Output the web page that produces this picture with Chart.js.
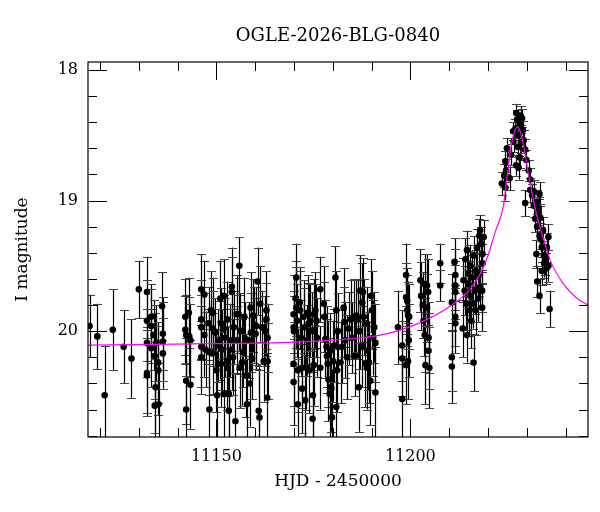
<!DOCTYPE html>
<html>
<head>
<meta charset="utf-8">
<title>OGLE-2026-BLG-0840</title>
<script src="https://cdn.jsdelivr.net/npm/chart.js@4.4.1/dist/chart.umd.min.js"></script>
<style>
  html, body { margin: 0; padding: 0; background: #fff; }
</style>
</head>
<body>
<canvas id="lc" width="600" height="512"></canvas>
<script>
// OGLE I-band photometry: [HJD - 2450000, I mag, error]
const photometry = [
  [11117.3, 19.96, 0.24], [11119.3, 20.04, 0.25], [11121.2, 20.49, 0.38], [11123.3, 19.99, 0.31],
  [11126.1, 20.12, 0.28], [11128.1, 20.21, 0.30], [11130.0, 19.68, 0.22], [11132.1, 19.70, 0.27],
  [11132.1, 19.92, 0.31], [11132.1, 20.09, 0.26], [11132.1, 20.32, 0.33], [11132.1, 20.34, 0.29],
  [11133.2, 19.89, 0.25], [11133.2, 19.96, 0.28], [11133.2, 20.13, 0.30], [11133.8, 20.03, 0.27],
  [11134.1, 20.19, 0.33], [11134.1, 20.57, 0.36], [11134.3, 20.43, 0.35], [11134.5, 20.09, 0.29],
  [11135.0, 20.24, 0.31], [11135.0, 20.30, 0.34], [11135.1, 20.56, 0.32], [11136.0, 19.81, 0.26],
  [11136.2, 20.02, 0.28], [11136.2, 20.08, 0.30], [11136.2, 20.17, 0.27],
  [11142.0, 19.89, 0.29], [11142.0, 19.99, 0.26], [11142.2, 20.03, 0.31], [11142.2, 20.38, 0.33],
  [11142.2, 20.60, 0.36], [11142.9, 19.86, 0.27], [11143.0, 20.04, 0.30], [11143.3, 20.07, 0.28],
  [11143.3, 20.41, 0.34],
  [11146.1, 19.68, 0.27], [11146.1, 19.91, 0.30], [11146.1, 19.97, 0.25], [11146.1, 20.12, 0.31],
  [11146.1, 20.20, 0.28], [11146.9, 19.72, 0.26], [11146.9, 20.03, 0.32], [11147.2, 20.14, 0.29],
  [11148.0, 19.94, 0.28], [11148.0, 20.16, 0.33], [11148.2, 20.60, 0.35], [11148.6, 19.84, 0.30],
  [11149.0, 19.86, 0.27], [11149.0, 19.98, 0.29], [11149.0, 20.17, 0.31], [11149.7, 20.01, 0.26],
  [11150.0, 20.30, 0.32], [11150.2, 20.49, 0.34], [11150.3, 20.11, 0.28], [11150.9, 20.07, 0.30],
  [11151.0, 19.75, 0.29], [11151.2, 19.94, 0.27], [11151.2, 20.25, 0.33], [11151.5, 20.14, 0.31],
  [11151.9, 19.73, 0.28], [11151.9, 19.98, 0.26], [11151.9, 20.48, 0.35], [11152.3, 20.05, 0.30],
  [11152.8, 19.91, 0.29], [11152.8, 20.28, 0.32], [11152.9, 20.23, 0.27], [11153.2, 20.48, 0.34],
  [11153.2, 20.61, 0.36], [11153.6, 20.07, 0.28], [11154.0, 19.66, 0.30], [11154.0, 19.70, 0.27],
  [11154.0, 20.14, 0.31], [11154.3, 20.20, 0.29], [11154.5, 19.97, 0.28], [11154.9, 20.69, 0.37],
  [11155.2, 19.87, 0.30], [11155.3, 20.07, 0.26], [11155.7, 19.87, 0.28], [11155.9, 19.50, 0.22],
  [11156.0, 20.28, 0.31], [11156.2, 20.00, 0.29], [11156.6, 20.24, 0.33], [11156.9, 20.16, 0.27],
  [11157.2, 19.89, 0.30], [11157.5, 20.06, 0.28], [11157.7, 20.34, 0.32], [11157.9, 20.56, 0.35],
  [11158.3, 20.07, 0.29], [11158.6, 20.40, 0.33], [11158.8, 19.82, 0.27], [11158.9, 20.01, 0.30],
  [11159.2, 20.21, 0.31], [11159.5, 19.88, 0.28], [11159.8, 19.95, 0.29], [11160.1, 20.02, 0.27],
  [11160.3, 19.96, 0.30], [11160.6, 19.62, 0.26], [11160.9, 20.61, 0.34], [11161.1, 20.66, 0.36],
  [11161.3, 19.79, 0.29], [11161.8, 19.97, 0.28], [11162.2, 20.23, 0.31], [11162.6, 20.00, 0.27],
  [11162.9, 19.84, 0.30], [11162.9, 19.91, 0.28], [11163.1, 20.51, 0.34], [11163.2, 20.23, 0.29],
  [11163.2, 20.05, 0.26],
  [11169.9, 19.87, 0.30], [11169.9, 19.97, 0.28], [11170.0, 20.00, 0.27], [11169.9, 20.25, 0.32],
  [11169.9, 20.39, 0.33], [11170.4, 19.75, 0.29], [11170.6, 19.59, 0.26], [11170.6, 19.82, 0.31],
  [11170.8, 19.92, 0.28], [11171.0, 20.30, 0.32], [11171.0, 20.56, 0.35], [11171.5, 19.78, 0.27],
  [11171.6, 19.84, 0.30], [11171.8, 20.05, 0.29], [11172.1, 20.44, 0.34], [11172.1, 20.28, 0.31],
  [11172.5, 19.89, 0.28], [11172.7, 19.97, 0.30], [11172.9, 20.53, 0.35], [11173.2, 20.28, 0.32],
  [11173.4, 20.07, 0.27], [11173.5, 19.86, 0.29], [11173.8, 19.94, 0.31], [11174.0, 20.30, 0.33],
  [11174.2, 19.92, 0.28], [11174.7, 20.00, 0.30], [11174.8, 20.67, 0.36], [11174.9, 20.49, 0.34],
  [11175.1, 19.87, 0.27], [11175.1, 20.26, 0.31], [11175.5, 19.84, 0.29], [11175.8, 19.92, 0.28],
  [11175.9, 20.05, 0.30], [11176.8, 19.68, 0.25], [11176.8, 20.28, 0.32], [11177.7, 19.79, 0.29],
  [11177.8, 19.89, 0.27], [11178.1, 20.06, 0.30], [11178.4, 20.12, 0.31], [11178.5, 20.19, 0.28],
  [11178.7, 20.25, 0.33], [11178.9, 20.37, 0.32], [11179.2, 20.48, 0.35], [11179.4, 20.15, 0.29],
  [11179.6, 20.43, 0.34], [11179.8, 20.66, 0.37], [11180.1, 20.23, 0.31], [11180.4, 20.11, 0.28],
  [11180.7, 19.59, 0.24], [11180.9, 19.84, 0.30], [11180.9, 20.58, 0.35], [11181.1, 20.30, 0.32],
  [11181.3, 20.00, 0.29], [11182.0, 20.24, 0.31], [11182.4, 20.12, 0.28], [11182.8, 19.82, 0.30],
  [11183.0, 19.93, 0.27], [11183.2, 20.07, 0.29], [11183.7, 20.20, 0.32], [11184.1, 19.98, 0.28],
  [11184.7, 19.91, 0.30], [11185.0, 20.05, 0.27], [11185.4, 19.89, 0.29], [11185.8, 20.19, 0.31],
  [11186.1, 19.88, 0.28], [11186.4, 19.91, 0.30], [11186.7, 20.43, 0.34], [11186.9, 20.00, 0.29],
  [11187.1, 19.69, 0.27], [11187.6, 19.78, 0.30], [11187.6, 20.12, 0.31], [11187.8, 19.70, 0.26],
  [11188.0, 19.89, 0.29], [11188.4, 20.25, 0.33], [11188.7, 19.94, 0.28], [11188.8, 20.28, 0.32],
  [11189.0, 20.15, 0.30], [11189.3, 20.24, 0.31], [11189.7, 20.38, 0.34], [11189.9, 19.73, 0.28],
  [11190.1, 19.84, 0.30], [11190.4, 20.05, 0.29], [11190.7, 19.97, 0.27], [11191.0, 20.47, 0.35],
  [11191.0, 20.09, 0.30],
  [11196.8, 19.97, 0.28], [11197.9, 20.11, 0.27], [11197.9, 20.21, 0.29], [11197.9, 20.52, 0.33],
  [11198.9, 19.57, 0.24], [11198.9, 19.74, 0.26], [11198.9, 20.26, 0.30], [11199.2, 19.77, 0.25],
  [11199.2, 19.84, 0.27], [11199.4, 19.88, 0.26], [11199.4, 20.23, 0.29], [11199.6, 20.07, 0.28],
  [11199.7, 19.89, 0.25],
  [11202.6, 19.61, 0.24], [11202.8, 19.73, 0.26], [11203.2, 19.80, 0.25], [11203.4, 19.92, 0.27],
  [11203.7, 19.64, 0.23], [11203.7, 20.03, 0.28], [11203.9, 20.26, 0.30], [11204.3, 19.65, 0.24],
  [11204.3, 19.82, 0.26], [11204.6, 19.70, 0.25], [11204.7, 20.05, 0.27], [11204.7, 20.15, 0.29],
  [11204.9, 20.28, 0.31],
  [11207.7, 19.48, 0.15], [11207.7, 19.65, 0.12],
  [11210.7, 19.78, 0.22], [11210.7, 20.20, 0.26], [11210.7, 20.27, 0.28], [11211.4, 19.47, 0.18],
  [11211.6, 19.57, 0.20], [11211.6, 19.65, 0.19], [11211.6, 19.70, 0.21], [11211.6, 19.89, 0.22],
  [11211.6, 19.94, 0.23],
  [11213.5, 19.98, 0.22], [11213.7, 19.61, 0.17], [11214.0, 19.69, 0.19], [11214.2, 19.45, 0.16],
  [11214.4, 19.79, 0.20], [11214.6, 19.38, 0.15], [11214.6, 20.03, 0.21], [11214.9, 19.56, 0.17],
  [11215.0, 19.64, 0.18], [11215.2, 19.84, 0.20], [11215.5, 19.50, 0.16], [11215.5, 19.73, 0.19],
  [11215.7, 19.92, 0.21], [11215.9, 19.59, 0.17], [11216.1, 19.79, 0.19], [11216.3, 19.42, 0.15],
  [11216.3, 20.24, 0.22], [11216.6, 19.69, 0.18], [11216.8, 19.84, 0.19], [11216.9, 19.54, 0.16],
  [11217.2, 19.36, 0.14], [11217.5, 19.75, 0.18], [11217.6, 19.57, 0.16], [11217.8, 19.27, 0.13],
  [11218.0, 19.23, 0.12], [11218.0, 19.66, 0.17], [11218.3, 19.33, 0.13], [11218.5, 19.69, 0.16],
  [11218.5, 19.82, 0.18], [11218.6, 19.41, 0.14], [11218.6, 19.48, 0.15], [11218.9, 19.28, 0.13],
  [11223.6, 18.87, 0.09], [11224.2, 18.81, 0.09], [11224.5, 18.70, 0.08], [11224.5, 18.90, 0.10],
  [11224.7, 18.77, 0.09], [11224.9, 18.60, 0.08], [11225.6, 18.83, 0.09], [11226.0, 18.65, 0.08],
  [11226.5, 18.47, 0.07], [11226.6, 18.55, 0.08], [11227.1, 18.45, 0.07], [11227.3, 18.33, 0.07],
  [11227.3, 18.73, 0.08], [11227.5, 18.38, 0.07], [11227.7, 18.59, 0.08], [11227.9, 18.50, 0.07],
  [11227.9, 18.75, 0.09], [11228.2, 18.42, 0.07], [11228.2, 18.67, 0.08], [11228.4, 18.35, 0.07],
  [11228.5, 18.56, 0.08], [11228.8, 18.37, 0.07], [11229.0, 18.46, 0.07], [11229.2, 18.54, 0.08],
  [11229.6, 18.61, 0.08], [11229.6, 19.02, 0.10], [11229.9, 18.69, 0.08], [11230.5, 18.77, 0.08],
  [11230.9, 18.84, 0.09], [11230.9, 18.92, 0.09], [11231.4, 18.96, 0.09], [11231.8, 18.93, 0.09],
  [11231.8, 19.04, 0.09], [11232.2, 19.14, 0.10], [11232.5, 19.41, 0.11], [11232.7, 19.01, 0.09],
  [11232.7, 19.20, 0.10], [11232.7, 19.62, 0.12], [11233.1, 19.06, 0.09], [11233.1, 19.09, 0.10],
  [11233.3, 18.95, 0.09], [11233.3, 19.27, 0.10], [11233.3, 19.73, 0.13], [11233.5, 19.13, 0.10],
  [11233.7, 19.30, 0.10], [11233.9, 19.36, 0.11], [11233.9, 19.54, 0.11], [11234.2, 19.23, 0.10],
  [11234.4, 19.42, 0.11], [11234.5, 19.48, 0.11], [11234.8, 19.46, 0.11], [11235.1, 19.52, 0.12],
  [11235.2, 19.36, 0.11], [11235.6, 19.28, 0.10], [11235.6, 19.50, 0.12], [11235.9, 19.83, 0.14]
];

// model light curve
const modelHJD = [11116.9, 11135.0, 11150.0, 11166.5, 11179.4, 11192.3, 11202.1, 11210.7,
                  11215.9, 11219.3, 11221.9, 11224.0, 11224.9, 11226.2, 11227.7, 11229.2,
                  11230.5, 11232.5, 11234.4, 11236.1, 11239.5, 11243.0, 11245.8];
const modelMag = [20.107, 20.101, 20.095, 20.088, 20.07, 20.03, 19.94, 19.80,
                  19.66, 19.48, 19.24, 19.04, 18.83, 18.55, 18.435, 18.58,
                  18.81, 19.10, 19.30, 19.46, 19.64, 19.75, 19.80];

const xMajorTicks = [11150, 11200];
const yMajorTicks = [18, 19, 20];

const serif = 'DejaVu Serif';

function isMajor(v, list) {
  return list.some(m => Math.abs(m - v) < 1e-6);
}

// vertical error bars under the points
const errorBars = {
  id: 'errorBars',
  beforeDatasetsDraw(chart) {
    const { ctx, chartArea: a, scales: { x, y } } = chart;
    ctx.save();
    ctx.beginPath();
    ctx.rect(a.left, a.top, a.right - a.left, a.bottom - a.top);
    ctx.clip();
    ctx.lineWidth = 1.2;
    photometry.forEach(([t, m, e]) => {
      const px = Math.round(x.getPixelForValue(t)) + 0.5;
      const top = y.getPixelForValue(m - e);
      const bot = y.getPixelForValue(m + e);
      ctx.strokeStyle = '#000';
      ctx.beginPath();
      ctx.moveTo(px, top);
      ctx.lineTo(px, bot);
      ctx.stroke();
      ctx.strokeStyle = '#444';
      ctx.beginPath();
      ctx.moveTo(px - 4.5, Math.round(top) + 0.5);
      ctx.lineTo(px + 4.5, Math.round(top) + 0.5);
      ctx.moveTo(px - 4.5, Math.round(bot) + 0.5);
      ctx.lineTo(px + 4.5, Math.round(bot) + 0.5);
      ctx.stroke();
    });
    ctx.restore();
  }
};

// box frame with inward ticks on all four sides
const frame = {
  id: 'frame',
  afterDraw(chart) {
    const { ctx, chartArea: a, scales: { x, y } } = chart;
    ctx.save();
    ctx.strokeStyle = '#000';
    ctx.lineWidth = 1.2;
    ctx.strokeRect(a.left, a.top, a.right - a.left, a.bottom - a.top);
    ctx.lineWidth = 1;
    ctx.beginPath();
    x.ticks.forEach(t => {
      const px = Math.round(x.getPixelForValue(t.value)) + 0.5;
      const len = isMajor(t.value, xMajorTicks) ? 18 : 9;
      ctx.moveTo(px, a.bottom);
      ctx.lineTo(px, a.bottom - len);
      ctx.moveTo(px, a.top);
      ctx.lineTo(px, a.top + len);
    });
    y.ticks.forEach(t => {
      const py = Math.round(y.getPixelForValue(t.value)) + 0.5;
      const len = isMajor(t.value, yMajorTicks) ? 19 : 9;
      ctx.moveTo(a.left, py);
      ctx.lineTo(a.left + len, py);
      ctx.moveTo(a.right, py);
      ctx.lineTo(a.right - len, py);
    });
    ctx.stroke();
    ctx.restore();
  }
};

new Chart(document.getElementById('lc'), {
  type: 'scatter',
  data: {
    datasets: [
      {
        type: 'line',
        label: 'model',
        data: modelHJD.map((t, i) => ({ x: t, y: modelMag[i] })),
        borderColor: '#ff00ff',
        borderWidth: 1.2,
        pointRadius: 0,
        cubicInterpolationMode: 'monotone',
        fill: false
      },
      {
        label: 'I',
        data: photometry.map(p => ({ x: p[0], y: p[1] })),
        pointRadius: 3.3,
        pointBackgroundColor: '#000',
        pointBorderWidth: 0
      }
    ]
  },
  options: {
    responsive: false,
    animation: false,
    layout: { padding: { left: 0, right: 12, top: 0, bottom: 0 } },
    plugins: {
      legend: { display: false },
      tooltip: { enabled: false },
      title: {
        display: true,
        text: 'OGLE-2026-BLG-0840',
        fullSize: false,
        color: '#000',
        font: { family: serif, size: 18, weight: 'normal', lineHeight: 1.2 },
        padding: { top: 26, bottom: 14.4 }
      }
    },
    scales: {
      x: {
        type: 'linear',
        min: 11116.9,
        max: 11245.8,
        grid: { display: false, drawTicks: false },
        border: { display: false },
        ticks: {
          stepSize: 10,
          includeBounds: false,
          autoSkip: false,
          maxRotation: 0,
          padding: 10,
          color: '#000',
          font: { family: serif, size: 16 },
          callback: v => isMajor(v, xMajorTicks) ? String(v) : ''
        },
        title: {
          display: true,
          text: 'HJD - 2450000',
          color: '#000',
          font: { family: serif, size: 17, lineHeight: 1.2 },
          padding: { top: 0, bottom: 20 }
        },
        afterFit: s => { s.height = 75; }
      },
      y: {
        type: 'linear',
        reverse: true,
        min: 17.94,
        max: 20.81,
        grid: { display: false, drawTicks: false },
        border: { display: false },
        ticks: {
          stepSize: 0.2,
          includeBounds: false,
          autoSkip: false,
          padding: 10,
          color: '#000',
          font: { family: serif, size: 16 },
          callback: v => isMajor(v, yMajorTicks) ? String(Math.round(v)) : ''
        },
        title: {
          display: true,
          text: 'I magnitude',
          color: '#000',
          font: { family: serif, size: 17, lineHeight: 1.2 },
          padding: { top: 12, bottom: 0 }
        },
        afterFit: s => { s.width = 88; }
      }
    }
  },
  plugins: [errorBars, frame]
});
</script>
</body>
</html>
